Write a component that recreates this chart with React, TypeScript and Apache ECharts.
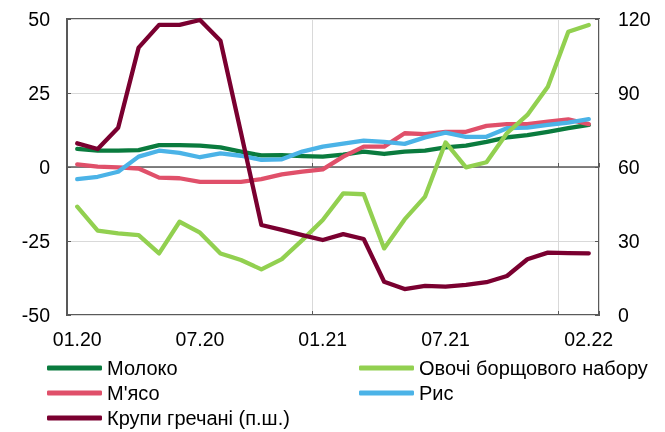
import React, { useEffect, useRef } from "react";
import * as echarts from "echarts";

const categories = [
  "01.20","02.20","03.20","04.20","05.20","06.20","07.20","08.20","09.20","10.20","11.20","12.20",
  "01.21","02.21","03.21","04.21","05.21","06.21","07.21","08.21","09.21","10.21","11.21","12.21",
  "01.22","02.22",
];
const labelIndices = [0, 6, 12, 18, 25];
const yearBoundaries = [12, 24];

const moloko = [6.1, 5.5, 5.5, 5.7, 7.4, 7.4, 7.2, 6.6, 5.2, 3.9, 4.0, 3.7, 3.5, 4.2, 5.2, 4.4, 5.2, 5.5, 6.6, 7.2, 8.5, 10.0, 10.8, 11.9, 13.1, 14.2];
const ovochi = [-13.4, -21.5, -22.4, -23.0, -29.2, -18.5, -22.2, -29.2, -31.4, -34.6, -31.1, -24.7, -17.9, -8.9, -9.2, -27.5, -17.7, -10.0, 8.3, -0.1, 1.6, 11.4, 17.6, 27.1, 45.7, 48.0];
const myaso = [0.9, 0.1, -0.1, -0.5, -3.6, -3.8, -5.0, -5.0, -5.0, -4.1, -2.5, -1.6, -0.8, 3.5, 6.9, 6.9, 11.4, 11.1, 11.9, 11.9, 13.9, 14.5, 14.5, 15.3, 16.1, 14.5];
const rys = [-4.1, -3.3, -1.6, 3.5, 5.5, 4.8, 3.3, 4.6, 3.8, 2.4, 2.6, 5.2, 6.9, 7.9, 8.9, 8.5, 7.8, 10.0, 11.6, 10.2, 10.2, 13.1, 13.3, 14.2, 15.0, 16.2];
const krupy = [69.6, 67.3, 75.9, 108.4, 117.6, 117.6, 119.6, 111.2, 74, 36.5, 34.5, 32.4, 30.4, 32.8, 30.8, 13.5, 10.5, 11.8, 11.5, 12.2, 13.3, 15.8, 22.6, 25.3, 25.1, 25.0];

const names = {
  moloko: "Молоко",
  ovochi: "Овочі борщового набору",
  myaso: "М'ясо",
  rys: "Рис",
  krupy: "Крупи гречані (п.ш.)",
};

const FONT = "'Liberation Sans', Arial, sans-serif";
const DARK = "#595959";
const GRID = "#d9d9d9";

export default function App() {
  const ref = useRef<HTMLDivElement>(null);
  useEffect(() => {
    if (!ref.current) return;
    const chart = echarts.init(ref.current, null, { renderer: "svg" });
    const line = (name: string, data: number[], color: string, yAxisIndex = 0) => ({
      name,
      type: "line",
      data,
      yAxisIndex,
      xAxisIndex: 0,
      symbol: "none",
      color,
      lineStyle: { width: 4.3, color, cap: "round", join: "round" },
    });
    const legendBase = {
      top: 358, orient: "vertical", padding: 0,
      itemWidth: 55, itemHeight: 5, itemGap: 5, icon: "roundRect",
      textStyle: { fontSize: 20, lineHeight: 20, color: "#000", fontFamily: FONT },
    };
    chart.setOption({
      animation: false,
      textStyle: { fontFamily: FONT },
      grid: {
        left: 67, right: 66, top: 19, bottom: 117,
        show: true, borderColor: DARK, borderWidth: 2,
      },
      legend: [
        { ...legendBase, left: 47, data: [names.moloko, names.myaso, names.krupy] },
        { ...legendBase, left: 359, data: [names.ovochi, names.rys] },
      ],
      xAxis: [
        {
          type: "category",
          data: categories,
          boundaryGap: true,
          axisLine: { show: false, onZero: false },
          axisTick: {
            show: true, inside: true, length: 4,
            interval: (i: number) => yearBoundaries.includes(i),
            lineStyle: { color: DARK, width: 1 },
          },
          axisLabel: {
            interval: (i: number) => labelIndices.includes(i),
            fontSize: 19.5, color: "#000", margin: 14, fontFamily: FONT,
          },
          splitLine: {
            show: true,
            interval: (i: number) => yearBoundaries.includes(i),
            lineStyle: { color: GRID, width: 1 },
          },
        },
        {
          type: "category",
          data: categories,
          position: "bottom",
          boundaryGap: true,
          axisLine: { show: true, onZero: true, lineStyle: { color: DARK, width: 1.5 } },
          axisTick: {
            show: true, inside: true, length: 4,
            interval: (i: number) => yearBoundaries.includes(i),
            lineStyle: { color: DARK, width: 1 },
          },
          axisLabel: { show: false },
          splitLine: { show: false },
        },
      ],
      yAxis: [
        {
          type: "value",
          min: -50, max: 50, interval: 25,
          axisLine: { show: false },
          axisTick: { show: true, inside: true, length: 4, lineStyle: { color: DARK } },
          axisLabel: { fontSize: 19.5, color: "#000", margin: 17, fontFamily: FONT },
          splitLine: { show: true, lineStyle: { color: GRID, width: 1 } },
        },
        {
          type: "value",
          min: 0, max: 120, interval: 30,
          position: "right",
          axisLine: { show: false },
          axisTick: { show: true, inside: true, length: 4, lineStyle: { color: DARK } },
          axisLabel: { fontSize: 19.5, color: "#000", margin: 19, fontFamily: FONT },
          splitLine: { show: false },
        },
      ],
      series: [
        line(names.moloko, moloko, "#0a7b3e"),
        line(names.myaso, myaso, "#e0506a"),
        line(names.rys, rys, "#4bb3e7"),
        line(names.ovochi, ovochi, "#92d050"),
        line(names.krupy, krupy, "#7a0030", 1),
      ],
    });
    return () => chart.dispose();
  }, []);
  return (
    <div
      ref={ref}
      style={{ position: "fixed", left: 0, top: 0, width: 665, height: 432 }}
    />
  );
}
